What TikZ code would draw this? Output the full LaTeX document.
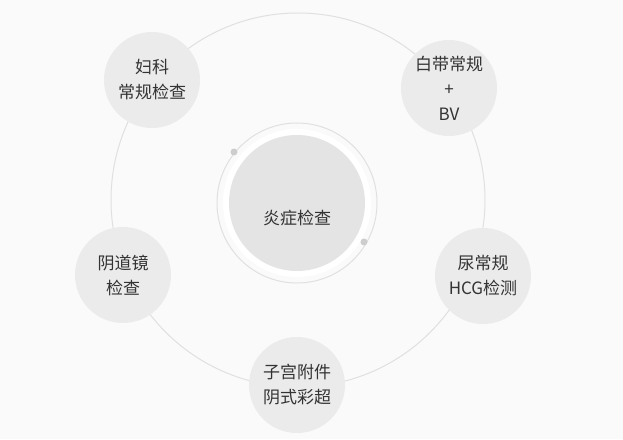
\documentclass[tikz,border=0pt]{standalone}
\usepackage{fontspec}
\newfontfamily\cjk{Noto Sans CJK SC}
\definecolor{bg}{HTML}{FAFAFA}
\definecolor{nodefill}{HTML}{EBEBEB}
\definecolor{centerfill}{HTML}{E4E4E4}
\definecolor{ringc}{HTML}{E0E0E0}
\definecolor{txt}{HTML}{333333}
\tikzset{
  x=1pt,y=1pt,
  item/.style={circle,fill=nodefill,minimum size=96pt,inner sep=0pt,align=center,
    font=\cjk\fontsize{17}{25}\selectfont,text=txt},
  dotc/.style={circle,fill=ringc!80!gray,minimum size=7pt,inner sep=0pt},
}
\begin{document}
\begin{tikzpicture}
\fill[bg] (0,0) rectangle (623,439);
\useasboundingbox (0,0) rectangle (623,439);
% big orbit
\coordinate (O) at (298,239);
\draw[ringc,line width=1pt] (O) circle[radius=187];
% center
\fill[white] (297,236) circle[radius=74];
\draw[ringc,line width=1pt] (297,236) circle[radius=80];
\node[circle,fill=centerfill,minimum size=136pt,inner sep=0pt] (c) at (297,236) {};
\node[font=\cjk\fontsize{17}{25}\selectfont,text=txt] (ct) at (297,221) {炎症检查};
\node[dotc] (d1) at (234,287) {};
\node[dotc] (d2) at (364,197) {};
% outer nodes
\node[item] (n1) at (152,359) {妇科\\常规检查};
\node[item] (n2) at (449,351) {白带常规\\+\\BV};
\node[item] (n3) at (483,163) {尿常规\\HCG检测};
\node[item] (n4) at (297,54) {子宫附件\\阴式彩超};
\node[item] (n5) at (123,164) {阴道镜\\检查};
\end{tikzpicture}
\end{document}
